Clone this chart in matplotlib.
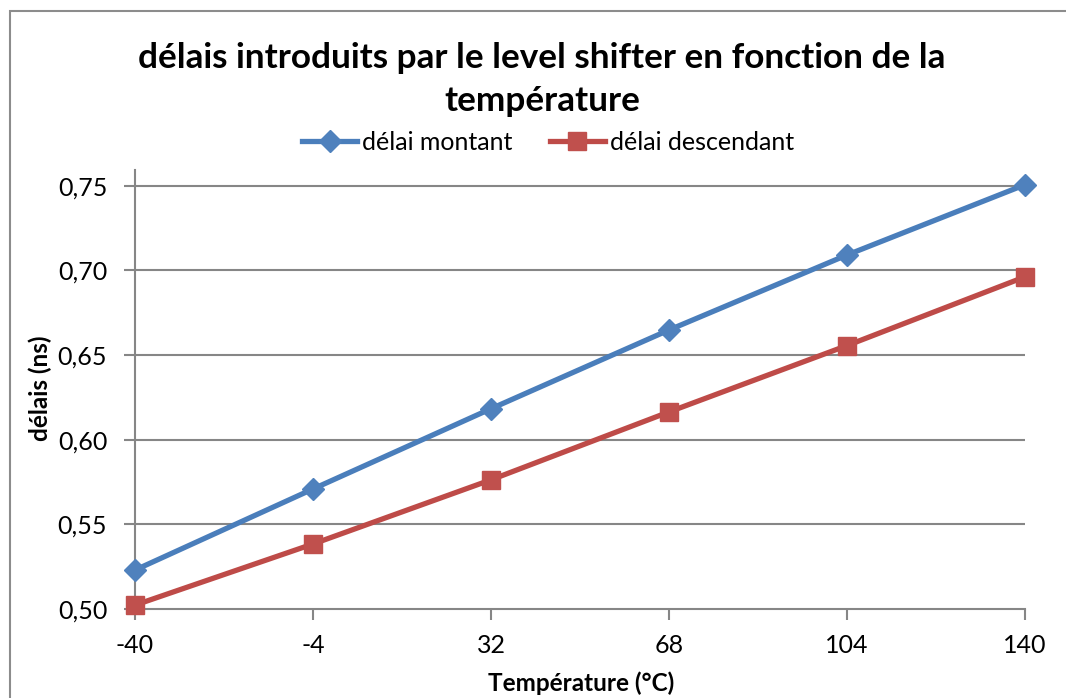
import matplotlib
matplotlib.use("Agg")
import matplotlib.pyplot as plt
from matplotlib.patches import Rectangle
from matplotlib.ticker import FuncFormatter

temperatures = ["-40", "-4", "32", "68", "104", "140"]
delai_montant = [0.5230, 0.5709, 0.6183, 0.6648, 0.7091, 0.7506]
delai_descendant = [0.5023, 0.5384, 0.5763, 0.6164, 0.6556, 0.6962]
y_ticks = [0.50, 0.55, 0.60, 0.65, 0.70, 0.75]

plt.rcParams['font.family'] = ['Lato', 'DejaVu Sans']

W, H = 1066, 698
fig = plt.figure(figsize=(W / 100, H / 100), dpi=100)

# outer chart frame
fig.patches.append(Rectangle((10 / W, -0.05), 1.2, 1 - 11 / H + 0.05,
                             transform=fig.transFigure, fill=False,
                             edgecolor="#8c8c8c", linewidth=1.5))

left, right, bottom, top = 135 / W, 1025 / W, 1 - 609 / H, 1 - 170 / H
ax = fig.add_axes([left, bottom, right - left, top - bottom])

x = list(range(len(temperatures)))
ax.plot(x, delai_montant, color="#4A7EBB", linewidth=3.8, marker="D",
        markersize=11.5, markerfacecolor="#4F81BD", markeredgecolor="#4F81BD",
        label="délai montant", zorder=3, clip_on=False)
ax.plot(x, delai_descendant, color="#BE4B48", linewidth=3.8, marker="s",
        markersize=13.5, markerfacecolor="#C0504D", markeredgecolor="#C0504D",
        label="délai descendant", zorder=3, clip_on=False)

ax.set_xlim(0, len(temperatures) - 1)
ax.set_ylim(0.50, 0.7593)
ax.set_xticks(x)
ax.set_xticklabels(temperatures)
ax.set_yticks(y_ticks)
ax.yaxis.set_major_formatter(FuncFormatter(lambda v, p: f"{v:.2f}".replace(".", ",")))

for v in y_ticks[1:]:
    ax.axhline(v, color="#868686", linewidth=1.5, zorder=1)

for s in ["top", "right"]:
    ax.spines[s].set_visible(False)
for s in ["left", "bottom"]:
    ax.spines[s].set_color("#868686")
    ax.spines[s].set_linewidth(1.5)

ax.tick_params(axis="both", colors="#868686", labelcolor="black",
               labelsize=18, width=1.5, length=8, direction="out")
ax.tick_params(axis="y", pad=12)
ax.tick_params(axis="x", pad=10)

ax.set_ylabel("délais (ns)", fontsize=17.5, fontweight="bold", va="center")
ax.set_xlabel("Température (°C)", fontsize=17.5, fontweight="bold", va="center")
ax.yaxis.set_label_coords(40 / W, 1 - 388 / H, transform=fig.transFigure)
ax.xaxis.set_label_coords(581 / W, 1 - 683 / H, transform=fig.transFigure)

fig.text(542 / W, 1 - 58 / H, "délais introduits par le level shifter en fonction de la",
         ha="center", va="center", fontsize=25.3, fontweight="bold")
fig.text(542 / W, 1 - 101 / H, "température",
         ha="center", va="center", fontsize=25.3, fontweight="bold")

leg = fig.legend(loc="center", bbox_to_anchor=(548 / W, 1 - 142 / H),
                 ncol=2, frameon=False, fontsize=18, handlelength=2.2,
                 handletextpad=0.2, columnspacing=1.5, markerscale=0.95)

fig.savefig("out.png", dpi=100)
